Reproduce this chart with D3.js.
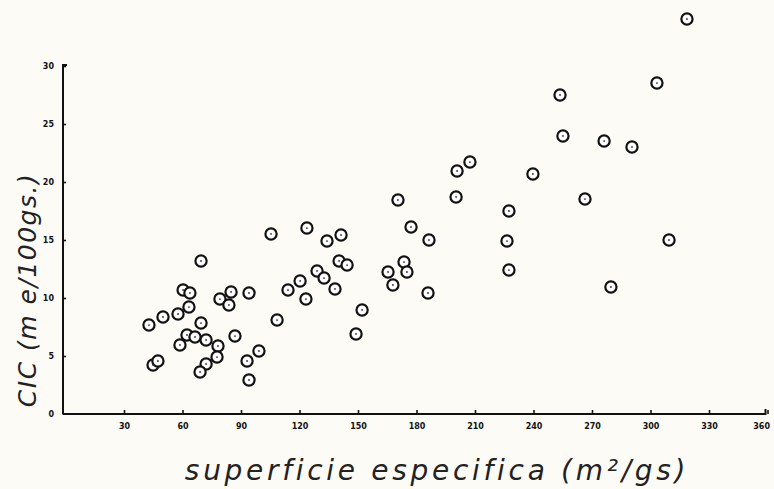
<!DOCTYPE html>
<html><head><meta charset="utf-8">
<script src="https://cdn.jsdelivr.net/npm/d3@7"></script>
<style>html,body{margin:0;padding:0;background:#fdfbf6;}svg{display:block;}</style>
</head><body>
<svg id="chart" width="774" height="489"></svg>
<script>
// superficie especifica (m2/gs)
const surface = [42.8,50.0,57.7,60.3,63.8,63.3,69.5,69.5,62.3,66.4,72.1,58.7,78.2,77.7,72.1,69.0,44.9,47.4,
  79.2,84.9,83.8,94.1,86.9,99.2,93.1,94.1,105.4,108.5,114.1,120.3,123.3,123.8,129.0,132.6,134.1,138.2,
  141.3,140.3,144.4,152.1,149.0,165.4,167.9,170.5,173.6,175.1,177.2,185.9,186.4,200.3,200.8,207.4,
  226.4,227.4,227.4,239.7,253.6,255.1,266.4,276.2,279.7,290.5,303.3,309.5,318.7];
// CIC (m e/100gs)
const cic = [7.67,8.36,8.62,10.69,10.43,9.22,13.19,7.84,6.81,6.64,6.38,5.95,5.86,4.91,4.31,3.62,4.22,4.57,
  9.91,10.52,9.40,10.43,6.72,5.43,4.57,2.93,15.52,8.10,10.69,11.47,9.91,16.03,12.33,11.72,14.91,10.78,
  15.43,13.19,12.84,8.97,6.90,12.24,11.12,18.45,13.10,12.24,16.12,10.43,15.0,18.71,20.95,21.72,
  14.91,17.5,12.41,20.69,27.5,23.97,18.53,23.53,10.95,23.02,28.53,15.0,34.05];
const xTicks = [30,60,90,120,150,180,210,240,270,300,330,360];
const yTicks = [0,5,10,15,20,25,30];

const svg = d3.select("#chart");
const x = d3.scaleLinear().domain([0,360]).range([65.5,767.5]);
const y = d3.scaleLinear().domain([0,30]).range([414,66]);

// axes
const gx = svg.append("g").attr("transform","translate(0,414)")
  .call(d3.axisBottom(x).tickValues(xTicks).tickSize(-4).tickPadding(9).tickFormat(d3.format("d")));
const gy = svg.append("g").attr("transform","translate(63,0)")
  .call(d3.axisLeft(y).tickValues(yTicks).tickSize(-3).tickPadding(9).tickFormat(d3.format("d")));
[gx,gy].forEach(g=>{
  g.select(".domain").remove();
  g.selectAll(".tick line").attr("stroke","#111").attr("stroke-width",1.6);
  g.selectAll(".tick text").attr("fill","#111").attr("font-family","DejaVu Sans")
    .attr("font-weight","bold").attr("font-size",8);
});
gy.selectAll(".tick").filter(d=>d===0).select("line").remove();
gx.selectAll(".tick").filter(d=>d===360).select("text").attr("text-anchor","end").attr("dx",2);
// axis lines with hooks
svg.append("path")
  .attr("d", d3.line()([[x(0)-3,y(0)],[x(360)-2,y(0)],[x(360)-2,y(0)-5]]))
  .attr("fill","none").attr("stroke","#111").attr("stroke-width",2);
svg.append("path")
  .attr("d", d3.line()([[67,y(30)-1],[63,y(30)-1],[63,y(0)]]))
  .attr("fill","none").attr("stroke","#111").attr("stroke-width",2);

// points
const pts = surface.map((s,i)=>({s, c:cic[i]}));
const g = svg.append("g");
g.selectAll("circle.o").data(pts).enter().append("circle").attr("class","o")
  .attr("cx",d=>x(d.s)).attr("cy",d=>y(d.c)).attr("r",5.6)
  .attr("fill","#fff").attr("stroke","#111").attr("stroke-width",2.2);
g.selectAll("circle.c").data(pts).enter().append("circle").attr("class","c")
  .attr("cx",d=>x(d.s)).attr("cy",d=>y(d.c)).attr("r",0.9).attr("fill","#333");

// titles
svg.append("text").attr("transform","translate(36,290) rotate(-90)")
  .attr("text-anchor","middle").attr("font-family","DejaVu Sans").attr("font-weight",200)
  .attr("font-style","italic").attr("font-size",25).attr("letter-spacing",1.5).attr("fill","#222")
  .text("CIC (m e/100gs.)");
svg.append("text").attr("x",437).attr("y",480)
  .attr("text-anchor","middle").attr("font-family","DejaVu Sans").attr("font-weight",200)
  .attr("font-style","italic").attr("font-size",28).attr("letter-spacing",3.7).attr("fill","#222")
  .text("superficie especifica (m²/gs)");
</script>
</body></html>
